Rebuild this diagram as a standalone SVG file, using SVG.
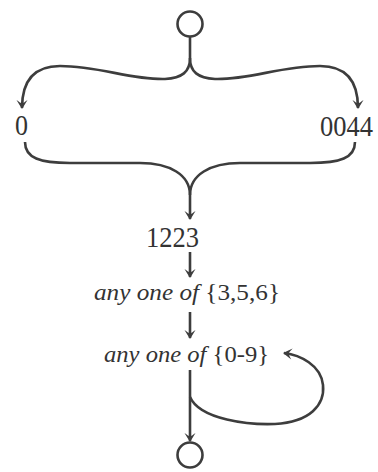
<svg xmlns="http://www.w3.org/2000/svg" width="378" height="472" viewBox="0 0 378 472">
<style>
.e{fill:none;stroke:#3d3d3d;stroke-width:2.6;stroke-linecap:butt}
.a{marker-end:url(#ah)}
.s{fill:none;stroke:#3d3d3d;stroke-width:2.6}
</style>
<defs>
<marker id="ah" viewBox="-10 -7 12 14" refX="0" refY="0" markerWidth="12" markerHeight="14" markerUnits="userSpaceOnUse" orient="auto">
<path d="M1,0 L-8,-5.5 Q-5,-1.5 -4.5,0 Q-5,1.5 -8,5.5 Z" fill="#3d3d3d"/>
</marker>
</defs>
<rect width="378" height="472" fill="#fff"/>
<g id="start"><circle class="s" cx="190" cy="24" r="12.5"/></g>
<g font-family="Liberation Serif" fill="#333">
<g id="n0"><text x="15" y="135" font-size="29.5" textLength="13" lengthAdjust="spacingAndGlyphs">0</text></g>
<g id="n0044"><text x="320" y="136" font-size="29.5" textLength="53" lengthAdjust="spacingAndGlyphs">0044</text></g>
<g id="n1223"><text x="146" y="247" font-size="29.5" textLength="53" lengthAdjust="spacingAndGlyphs">1223</text></g>
<g id="n356"><text x="94" y="300" font-size="23.5" textLength="186" lengthAdjust="spacingAndGlyphs"><tspan font-style="italic">any one of </tspan>{3,5,6}</text></g>
<g id="n09"><text x="104" y="362" font-size="23.5" textLength="165" lengthAdjust="spacingAndGlyphs"><tspan font-style="italic">any one of </tspan>{0-9}</text></g>
</g>
<g id="end"><circle class="s" cx="190" cy="455" r="12.5"/></g>
<g id="connectors">
<path class="e" d="M190,37 L190,58"/>
<path class="e a" d="M190,58 C190,72 182,78 165,79 C130,80 100,66 60,66 C30,66 22,85 22,108"/>
<path class="e a" d="M190,58 C190,72 198,78 215,79 C250,80 280,66 320,66 C350,66 358,85 358,108"/>
<path class="e" d="M25,142 C25,158 40,163 70,163 L140,163 C170,163 190,175 190,195"/>
<path class="e" d="M355,142 C355,158 340,163 310,163 L240,163 C210,163 190,175 190,195"/>
<path class="e a" d="M190,195 L190,219"/>
<path class="e a" d="M190,252 L190,277"/>
<path class="e a" d="M190,312 L190,338"/>
<path class="e a" d="M190,370 L190,441"/>
<path class="e a" d="M190,397 C200,420 250,425 275,424 C310,422 325,405 323,385 C321,365 300,355 284,353"/>
</g>
</svg>
